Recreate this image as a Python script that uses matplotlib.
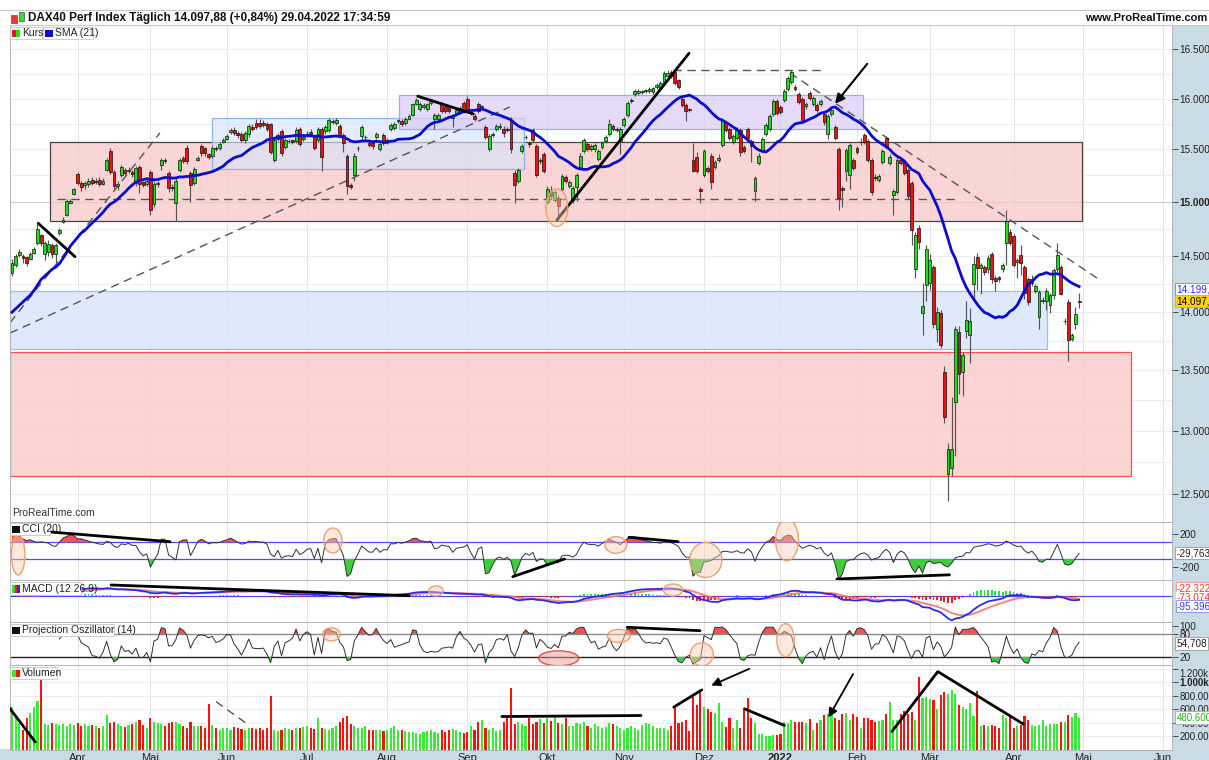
import numpy as np
import pandas as pd
import matplotlib
matplotlib.use('Agg')
import matplotlib.pyplot as plt
from matplotlib.patches import Rectangle, Ellipse
import matplotlib.transforms as mtransforms
from matplotlib.ticker import FixedLocator, FixedFormatter, NullLocator

plt.rcParams['font.family'] = ['Liberation Sans', 'DejaVu Sans']

# ---------------- data ----------------
opens = [
 14350,14420,14510,14500,14490,14470,14530,14620,14690,14520,
 14540,14600,14520,14710,14810,14880,14990,15070,15260,15180,
 15160,15170,15210,15190,15210,15170,15300,15480,15280,15150,
 15250,15300,15290,15280,15180,15330,15190,15170,15280,14980,
 15170,15350,15400,15270,15140,14990,15300,15420,15510,15270,
 15180,15400,15530,15510,15450,15440,15510,15510,15570,15600,
 15670,15690,15660,15650,15590,15650,15720,15760,15760,15760,
 15750,15750,15400,15600,15680,15520,15580,15590,15580,15700,
 15600,15640,15670,15620,15590,15700,15680,15690,15770,15760,
 15730,15640,15440,15160,15250,15510,15630,15620,15560,15560,
 15620,15500,15640,15570,15700,15710,15780,15780,15760,15800,
 15840,15950,15900,15920,15900,15960,15800,15800,15950,15920,
 15920,15810,15850,15870,15960,16000,15860,15830,15950,15920,
 15720,15500,15640,15700,15720,15700,15700,15790,15270,15200,
 15480,15620,15560,15690,15530,15390,15450,15000,15100,15020,
 15040,15120,15230,15150,15020,15140,15330,15480,15550,15500,
 15500,15410,15520,15580,15650,15730,15690,15580,15740,15840,
 15980,16050,16060,16070,16080,16080,16070,16120,16110,16170,
 16230,16270,16270,16190,16000,15940,15900,15400,15430,15120,
 15250,15320,15440,15330,15400,15540,15760,15700,15570,15610,
 15690,15520,15700,15580,15100,15370,15490,15650,15700,15850,
 15980,15920,15990,16100,16170,16120,16050,16000,15925,16060,
 15950,15940,15950,15850,15650,15850,15720,15500,15130,15290,
 15250,15400,15510,15570,15640,15580,15400,15230,15210,15380,
 15610,15370,15060,15090,15400,15380,15300,15180,14380,14760,
 13990,14240,14260,14400,13850,13990,13490,12650,12700,13240,
 13830,13490,13840,13800,14250,14490,14390,14400,14380,14520,
 14300,14310,14380,14620,14720,14680,14450,14510,14400,14290,
 14260,14190,13960,14100,14100,14060,14150,14380,14400,13920,
 14090,13770,13900,14090]

closes = [
 14440,14500,14540,14480,14440,14520,14560,14750,14620,14620,
 14610,14520,14600,14740,14830,15010,15010,15120,15180,15140,
 15180,15200,15180,15200,15170,15200,15400,15280,15150,15170,
 15330,15270,15300,15260,15320,15170,15160,15200,14920,15170,
 15180,15400,15390,15130,15130,15200,15400,15390,15390,15160,
 15310,15420,15460,15460,15430,15510,15500,15550,15590,15630,
 15690,15660,15640,15590,15660,15730,15700,15720,15730,15740,
 15700,15470,15590,15640,15460,15590,15580,15570,15690,15550,
 15620,15650,15650,15510,15700,15430,15720,15790,15780,15790,
 15640,15560,15150,15140,15440,15510,15720,15620,15540,15530,
 15650,15550,15560,15590,15740,15750,15780,15750,15800,15830,
 15950,15990,15950,15940,15950,15980,15840,15840,15880,15880,
 15880,15830,15890,15910,15880,15900,15860,15800,15880,15920,
 15620,15630,15650,15730,15720,15660,15690,15500,15160,15300,
 15530,15620,15550,15590,15250,15390,15290,15120,15050,15090,
 14960,15240,15200,15190,15130,15250,15440,15590,15500,15530,
 15540,15480,15560,15620,15750,15700,15700,15700,15800,15960,
 15990,16080,16080,16070,16080,16100,16110,16140,16160,16260,
 16260,16230,16160,16120,15940,15880,15890,15290,15290,15100,
 15480,15290,15190,15380,15420,15790,15690,15610,15630,15700,
 15470,15480,15610,15530,15220,15440,15600,15740,15830,15980,
 15860,15870,16080,16210,16270,16100,15970,15780,15950,16010,
 16010,15890,15980,15770,15830,15890,15610,15040,15110,15490,
 15540,15320,15470,15570,15570,15400,15090,15220,15240,15480,
 15530,15430,15100,15400,15370,15270,15050,14740,14690,14630,
 14052,14560,14460,13900,14000,13720,13110,12850,12850,13850,
 13470,13630,13930,13920,14430,14390,14420,14360,14480,14290,
 14280,14290,14420,14820,14620,14420,14460,14440,14170,14090,
 14290,14230,14180,14100,14190,14150,14370,14510,14160,13920,
 13760,13800,13980,14097.88]

highs = [
 14470,14520,14560,14520,14500,14540,14580,14790,14700,14640,
 14650,14620,14620,14760,14860,15030,15030,15130,15280,15200,
 15200,15220,15230,15220,15230,15220,15420,15510,15300,15200,
 15350,15320,15330,15300,15340,15350,15200,15230,15300,15200,
 15200,15420,15420,15290,15170,15220,15420,15440,15540,15290,
 15330,15440,15550,15520,15460,15530,15530,15570,15610,15650,
 15710,15720,15680,15670,15680,15750,15750,15800,15800,15790,
 15770,15760,15610,15660,15700,15610,15600,15600,15720,15720,
 15650,15680,15700,15640,15720,15720,15740,15810,15800,15810,
 15750,15660,15450,15180,15460,15530,15740,15640,15580,15590,
 15670,15570,15660,15610,15760,15770,15800,15800,15820,15850,
 15960,16010,15970,15960,15960,16000,15860,15860,15970,15940,
 15940,15850,15910,15930,15980,16030,15880,15850,15970,15940,
 15740,15650,15670,15750,15760,15730,15720,15820,15300,15320,
 15550,15640,15580,15710,15550,15420,15470,15150,15150,15110,
 15060,15260,15250,15210,15150,15270,15460,15610,15570,15550,
 15560,15500,15580,15640,15800,15750,15720,15720,15820,15980,
 16010,16100,16100,16090,16100,16120,16120,16160,16180,16280,
 16290,16290,16290,16200,16020,15960,15910,15560,15470,15140,
 15500,15340,15460,15400,15450,15810,15780,15720,15650,15720,
 15710,15540,15720,15600,15240,15460,15620,15760,15850,16000,
 16000,15940,16100,16230,16290,16140,16070,16020,15970,16080,
 16030,15960,16000,15870,15850,15910,15740,15520,15150,15510,
 15560,15420,15530,15610,15660,15600,15420,15260,15260,15500,
 15630,15450,15120,15420,15420,15400,15320,15200,14720,14780,
 14260,14600,14520,14420,14050,14020,13540,12900,13280,13880,
 13880,13660,14100,14040,14500,14530,14440,14420,14510,14540,
 14320,14320,14440,14920,14750,14700,14480,14600,14420,14310,
 14330,14250,14200,14130,14210,14170,14390,14620,14420,13950,
 14120,13820,14050,14170]

lows = [
 14320,14400,14490,14440,14410,14460,14520,14600,14590,14460,
 14500,14480,14420,14690,14800,14870,14980,15060,15160,15100,
 15120,15140,15160,15170,15150,15160,15290,15260,15120,15110,
 15230,15250,15270,15230,15150,15080,15140,15150,14880,14950,
 15140,15300,15370,15090,15100,14820,15280,15370,15360,15000,
 15160,15390,15440,15440,15410,15420,15480,15490,15560,15590,
 15650,15640,15610,15570,15560,15620,15680,15700,15710,15720,
 15680,15450,15380,15580,15440,15500,15560,15550,15560,15530,
 15580,15620,15630,15490,15570,15290,15650,15670,15750,15740,
 15620,15470,15070,15120,15200,15480,15600,15600,15520,15500,
 15600,15480,15540,15550,15680,15690,15760,15730,15740,15790,
 15830,15940,15880,15900,15880,15940,15700,15780,15860,15860,
 15860,15720,15830,15850,15860,15880,15840,15780,15860,15900,
 15600,15480,15620,15680,15700,15620,15670,15460,14990,15180,
 15460,15600,15520,15570,15230,15360,15270,14980,15030,15000,
 14830,15100,15180,15130,14990,15010,15310,15460,15480,15480,
 15470,15390,15500,15560,15630,15680,15670,15450,15720,15820,
 15960,16030,16040,16050,16060,16060,16050,16100,16090,16150,
 16220,16210,16140,16100,15920,15780,15870,15280,15270,14990,
 15230,15270,15120,15310,15380,15520,15670,15590,15550,15590,
 15440,15460,15590,15380,15010,15350,15470,15630,15680,15830,
 15840,15850,15970,16080,16150,16080,15950,15760,15900,15990,
 15930,15870,15930,15740,15600,15830,15590,14920,14950,15200,
 15120,15300,15450,15540,15550,15380,15060,15200,15190,15360,
 15510,15350,14880,15070,15350,15250,15030,14600,14300,14560,
 13800,14100,14200,13860,13740,13690,13060,12440,12640,12800,
 13300,13290,13780,13560,14100,14200,14160,14330,14350,14260,
 14190,14270,14360,14420,14600,14400,14300,14330,14120,14060,
 14230,14170,13850,14080,14020,13990,14120,14360,14150,13900,
 13580,13750,13850,14040]

volume_k = [
 640,520,400,300,470,545,640,720,1040,390,370,400,380,370,390,360,380,370,
 400,360,380,350,370,360,330,350,520,400,420,380,360,340,370,380,410,450,370,330,
 470,420,400,390,360,400,410,420,390,350,330,420,360,360,350,330,680,370,330,300,320,
 330,300,340,320,310,300,330,320,310,330,300,320,800,300,280,290,320,310,300,330,320,340,
 360,330,310,470,330,310,300,320,350,420,480,500,380,350,330,320,350,300,300,290,300,280,
 300,330,350,300,290,280,270,260,250,230,260,280,300,260,250,300,270,290,310,300,260,250,
 270,350,300,420,440,320,300,330,280,300,420,480,920,390,420,380,360,470,380,420,460,400,
 480,430,520,400,380,470,350,360,400,380,420,350,330,380,360,330,340,400,380,360,320,
 300,330,350,330,300,370,400,380,350,330,320,330,300,360,640,400,420,440,285,790,670,890,
 640,610,560,540,690,420,340,470,330,440,330,590,775,470,400,240,230,200,205,220,220,
 230,420,400,440,410,420,410,400,460,290,400,440,520,530,600,470,450,530,540,440,525,
 490,330,470,470,450,420,430,450,530,715,440,450,530,570,530,560,450,
 1085,
 775,790,760,740,600,810,860,830,890,830,670,640,600,690,500,870,
 350,370,360,370,350,330,515,470,500,330,350,370,500,440,370,350,370,440,
 350,380,390,390,420,410,520,490,540,480.6]

# start of SMA(21) and CCI(20) lines (history before the window)
sma_head = [14000,14030,14060,14090,14120,14150,14190,14240,14290,14320,
            14350,14380,14400,14430,14480,14530,14590,14630,14670,14710]
cci_head = [250,200,170,140,120,130,110,100,105,100,90,60,50,100,150,170,190,180,140]

month_labels = ['Apr','Mai','Jun','Jul','Aug','Sep','Okt','Nov','Dez','2022',
                'Feb','Mär','Apr','Mai','Jun']
price_ticks = [12500,13000,13500,14000,14500,15000,15500,16000,16500]
price_tick_labels = ['12.500','13.000','13.500','14.000','14.500','15.000','15.500','16.000','16.500']
vol_ticks = [200e3,400e3,600e3,800e3,1000e3,1200e3]
vol_tick_labels = ['200.000','400.000','600.000','800.000','1.000k','1.200k']

# last values shown in the right-hand tags
tag_sma, tag_close = 14199.74, 14097.88
tag_cci = -29.763
tag_macd = ['-22,322', '-73,074', '-95,396']
tag_po = 54.708
tag_vol = 480600

holidays = ['2021-04-02','2021-04-05','2021-12-24','2021-12-31','2022-04-15','2022-04-18']

# ---------------- derived series ----------------
o = np.array(opens, float); c = np.array(closes, float)
h = np.maximum.reduce([np.array(highs, float), o, c])
l = np.minimum.reduce([np.array(lows, float), o, c])
v = np.array(volume_k, float) * 1000
n = len(c)
assert len(o) == n == len(h) == len(l) == len(v), (len(o), n, len(h), len(l), len(v))
x = np.arange(n)
up = c >= o

all_days = pd.bdate_range('2021-03-08', '2022-06-30', freq='C', holidays=holidays)
idx = pd.Series(np.arange(len(all_days)), index=all_days)
firsts = idx.groupby([all_days.year, all_days.month]).first().values[1:]

cs = pd.Series(c)
sma = cs.rolling(21).mean().values
sma[:len(sma_head)] = sma_head

tp = pd.Series((h + l + c) / 3)
ma20 = tp.rolling(20).mean()
md20 = tp.rolling(20).apply(lambda w: np.mean(np.abs(w - w.mean())), raw=True)
cci = ((tp - ma20) / (0.015 * md20)).values
cci[:len(cci_head)] = cci_head

ema12 = cs.ewm(span=12, adjust=False).mean()
ema26 = cs.ewm(span=26, adjust=False).mean()
macd = (ema12 - ema26).values
sig = pd.Series(macd).ewm(span=9, adjust=False).mean().values
hist = macd - sig

def proj_osc(hh, ll, cc, p=14):
    out = np.full(len(cc), np.nan)
    k = np.arange(p)
    for t in range(p - 1, len(cc)):
        hw = hh[t - p + 1:t + 1]; lw_ = ll[t - p + 1:t + 1]
        sh = np.polyfit(k, hw, 1)[0]; sl = np.polyfit(k, lw_, 1)[0]
        ub = np.max(hw + sh * (p - 1 - k)); lb = np.min(lw_ + sl * (p - 1 - k))
        out[t] = 100 * (cc[t] - lb) / (ub - lb)
    return out
po = proj_osc(h, l, c)

# ---------------- figure layout ----------------
W, H = 1209, 760
fig = plt.figure(figsize=(W / 100, H / 100), dpi=100)
fig.patch.set_facecolor('white')
def FX(px): return px / W
def FY(py): return 1 - py / H
L0, R0 = 10, 1172
def add_panel(top, bottom):
    a = fig.add_axes([FX(L0), FY(bottom), FX(R0 - L0), (bottom - top) / H])
    a.set_facecolor('white')
    return a

ax = add_panel(25, 522)
ax_cci = add_panel(522, 580)
ax_macd = add_panel(580, 622)
ax_po = add_panel(622, 665)
ax_vol = add_panel(665, 750)
axes = [ax, ax_cci, ax_macd, ax_po, ax_vol]

STRIP = '#c9dbe5'
fig.add_artist(Rectangle((FX(R0), 0), 1 - FX(R0), FY(25), transform=fig.transFigure,
                         facecolor=STRIP, edgecolor='none', zorder=-5))
fig.add_artist(Rectangle((0, 0), 1, FY(749), transform=fig.transFigure,
                         facecolor=STRIP, edgecolor='none', zorder=-5))

XMIN, XMAX = -0.55, 318.5
TICKFS = 7.2
for a in axes:
    a.set_xlim(XMIN, XMAX)
    for s in a.spines.values():
        s.set_color('#b4b4b4'); s.set_linewidth(0.7)
    a.yaxis.tick_right()
    a.tick_params(axis='y', which='both', length=4, width=0.6, pad=1.5,
                  labelsize=TICKFS, colors='#333333', labelcolor='#222222')
    a.tick_params(axis='x', which='both', length=0, labelbottom=False)
    for p in firsts:
        a.axvline(p, color='#e4e4e4', lw=0.7, zorder=0)
    a.set_xticks([])

# ---------------- main price panel ----------------
ax.set_yscale('log')
ax.set_ylim(12280, 16752)
ax.yaxis.set_major_locator(FixedLocator(price_ticks))
ax.yaxis.set_major_formatter(FixedFormatter(price_tick_labels))
ax.yaxis.set_minor_locator(NullLocator())
for t in ax.get_yticklabels():
    if t.get_text() == '15.000':
        t.set_fontweight('bold')
for g in np.arange(12500, 16751, 250):
    ax.axhline(g, color='#c9c9c9' if g == 15000 else '#ececec', lw=0.7, zorder=0)

def zone(x0, x1, y0, y1, fc, ec, lw=0.9, z=1):
    ax.add_patch(Rectangle((x0, y0), x1 - x0, y1 - y0, facecolor=fc, edgecolor=ec, lw=lw, zorder=z))

zone(-0.55, 307.2, 12640, 13653, (0.98, 0.80, 0.80, 0.85), '#ff4d4d')
zone(-0.55, 284.1, 13679, 14189, (0.86, 0.90, 0.99, 0.85), '#9dbcf3')
zone(10.4, 293.8, 14824, 15574, (0.97, 0.78, 0.78, 0.75), '#444444')
zone(54.8, 140.6, 15308, 15809, (0.84, 0.89, 0.99, 0.65), '#8fb2f2')
zone(106.3, 233.7, 15695, 16035, (0.86, 0.80, 0.97, 0.7), '#8fb2f2')

dash = dict(color='#555555', lw=1.0, dashes=(6, 4), zorder=2)
ax.plot([12.4, 259.5], [15029, 15029], **dash)
ax.plot([181.5, 223.2], [16288, 16288], **dash)
ax.plot([-0.55, 136.7], [13819, 15916], **dash)
ax.plot([-0.55, 40.6], [13908, 15659], **dash)
ax.plot([213.6, 297.9], [16257, 14302], **dash)

ax.vlines(x, l, h, color='#555555', lw=0.85, zorder=3)
body_lo = np.minimum(o, c)
body_h = np.maximum(np.abs(c - o), 4)
ax.bar(x, body_h, bottom=body_lo, width=0.78, color=np.where(up, '#19e019', '#ee1111'),
       edgecolor='black', linewidth=0.45, zorder=4)
ax.plot(x, sma, color='#0b0bcc', lw=2.0, zorder=5)

solid = dict(color='black', lw=2.0, zorder=6, solid_capstyle='round')
ax.plot([7.2, 17.3], [14800, 14494], **solid)
ax.plot([111.4, 126.7], [16023, 15846], **solid)
ax.plot([149.6, 185.9], [14830, 16459], **solid)
ax.annotate('', xy=(225.5, 15925), xytext=(235.3, 16373),
            arrowprops=dict(arrowstyle='-|>', color='black', lw=1.5, mutation_scale=14), zorder=6)

orange_fc = (0.98, 0.80, 0.70, 0.45)
orange_ec = '#f0a070'
ax.add_patch(Ellipse((149.6, 14945), 6, 350, facecolor=orange_fc, edgecolor=orange_ec, lw=1, zorder=6))

bt = mtransforms.blended_transform_factory(ax.transAxes, ax.transData)
ax.text(1.004, tag_sma, '14.199,74', transform=bt, fontsize=TICKFS, color='#2a2aff', va='center', ha='left',
        bbox=dict(boxstyle='square,pad=0.12', fc='white', ec='#7a7aff', lw=0.6), clip_on=False, zorder=10)
ax.text(1.004, tag_close, '14.097,88', transform=bt, fontsize=TICKFS, color='black', va='center', ha='left',
        bbox=dict(boxstyle='square,pad=0.12', fc='#ffd200', ec='#e0b000', lw=0.6), clip_on=False, zorder=10)
ax.text(0.002, 0.008, 'ProRealTime.com', transform=ax.transAxes, fontsize=7.5, color='#333333',
        va='bottom', ha='left', zorder=10)

# ---------------- CCI ----------------
ax_cci.set_ylim(-352, 343)
ax_cci.set_yticks([200, -200]); ax_cci.set_yticklabels(['200', '-200'])
ax_cci.axhline(100, color='#4a4aff', lw=0.9, zorder=2)
ax_cci.axhline(-100, color='#4a4aff', lw=0.9, zorder=2)
ax_cci.fill_between(x, cci, 100, where=cci > 100, interpolate=True, color='#f25252', lw=0, zorder=3)
ax_cci.fill_between(x, cci, -100, where=cci < -100, interpolate=True, color='#3ccc3c', lw=0, zorder=3)
ax_cci.plot(x, cci, color='#303030', lw=0.7, zorder=4)
for (cx, cy, w, hh) in [(1.7, -52, 3.7, 480), (88.1, 121, 5, 300), (190.5, -112, 8.8, 420),
                        (212.8, 128, 6.3, 500), (165.8, 68, 6, 200)]:
    ax_cci.add_patch(Ellipse((cx, cy), w, hh, facecolor=orange_fc, edgecolor=orange_ec, lw=1, zorder=5))
for (p0, p1) in [((9.5, 227), (43.4, 107)), ((137.5, -312), (151.7, -100)),
                 ((169.4, 160), (182.9, 107)), ((226.5, -340), (257.4, -290))]:
    ax_cci.plot([p0[0], p1[0]], [p0[1], p1[1]], **solid)
bt = mtransforms.blended_transform_factory(ax_cci.transAxes, ax_cci.transData)
ax_cci.text(1.004, tag_cci, '-29,763', transform=bt, fontsize=TICKFS, color='#222222', va='center', ha='left',
            bbox=dict(boxstyle='square,pad=0.12', fc='white', ec='#999999', lw=0.6), clip_on=False, zorder=10)

# ---------------- MACD ----------------
ax_macd.set_ylim(-650, 400)
ax_macd.set_yticks([])
ax_macd.axhline(0, color='#4a4aff', lw=0.9, zorder=2)
ax_macd.bar(x, hist, width=0.5, color=np.where(hist >= 0, '#33dd33', '#ff1a1a'), zorder=3)
ax_macd.plot(x, sig, color='#f07070', lw=1.4, alpha=0.85, zorder=4)
ax_macd.plot(x, macd, color='#2a2aee', lw=1.3, zorder=5)
ax_macd.plot([27.2, 109.1], [275, 7.5], **solid)
ax_macd.add_patch(Ellipse((116.4, 125), 4, 250, facecolor=orange_fc, edgecolor=orange_ec, lw=1, zorder=6))
ax_macd.add_patch(Ellipse((181.5, 150), 5.3, 300, facecolor=orange_fc, edgecolor=orange_ec, lw=1, zorder=6))
for txt, yf, col, ec in zip(tag_macd, [0.80, 0.58, 0.38], ['#ff3030', '#ff3030', '#3a3aff'],
                            ['#ff9090', 'none', '#8a8aff']):
    ax_macd.text(1.004, yf, txt, transform=ax_macd.transAxes, fontsize=TICKFS, color=col, va='center', ha='left',
                 bbox=dict(boxstyle='square,pad=0.1', fc='white', ec=ec, lw=0.6), clip_on=False, zorder=10)

# ---------------- Projection oscillator ----------------
ax_po.set_ylim(-0.9, 111.3)
ax_po.set_yticks([100, 80, 20]); ax_po.set_yticklabels(['100', '80', '20'])
ax_po.axhline(80, color='#8a8a8a', lw=1.0, zorder=2)
ax_po.axhline(20, color='#222222', lw=1.0, zorder=2)
ax_po.fill_between(x, po, 80, where=po > 80, interpolate=True, color='#f25252', lw=0, zorder=3)
ax_po.fill_between(x, po, 20, where=po < 20, interpolate=True, color='#3ccc3c', lw=0, zorder=3)
ax_po.plot(x, po, color='#303030', lw=0.7, zorder=4)
for (cx, cy, w, hh) in [(87.7, 79, 4.8, 34), (166.6, 75, 6.3, 34), (189.4, 27, 6.3, 60), (212.4, 64, 4.8, 86)]:
    ax_po.add_patch(Ellipse((cx, cy), w, hh, facecolor=orange_fc, edgecolor=orange_ec, lw=1, zorder=5))
ax_po.add_patch(Ellipse((150.1, 16.6), 11, 39, facecolor=(0.95, 0.6, 0.6, 0.5), edgecolor='#e05050', lw=1, zorder=5))
ax_po.plot([168.9, 188.9], [97.5, 88.6], **solid)
bt = mtransforms.blended_transform_factory(ax_po.transAxes, ax_po.transData)
ax_po.text(1.004, tag_po, '54,708', transform=bt, fontsize=TICKFS, color='#222222', va='center', ha='left',
           bbox=dict(boxstyle='square,pad=0.12', fc='white', ec='#999999', lw=0.6), clip_on=False, zorder=10)

# ---------------- Volume ----------------
ax_vol.set_ylim(0, 1257e3)
ax_vol.set_yticks(vol_ticks); ax_vol.set_yticklabels(vol_tick_labels)
ax_vol.tick_params(axis='y', labelsize=7)
for t in ax_vol.get_yticklabels():
    if t.get_text() == '1.000k':
        t.set_fontweight('bold')
    if t.get_text() == '1.200k':
        t.set_va('top')
for g in vol_ticks:
    ax_vol.axhline(g, color='#ececec', lw=0.7, zorder=0)
ax_vol.bar(x, v, width=0.58, color=np.where(up, '#33ee33', '#ff1010'), zorder=3)
ax_vol.plot([-0.66, 6.4], [619e3, 118e3], **solid)
ax_vol.plot([56, 64.5], [716e3, 388e3], **dash)
ax_vol.plot([134.5, 172.7], [495e3, 510e3], **solid)
ax_vol.plot([181.7, 189.4], [634e3, 889e3], **solid)
ax_vol.plot([201.1, 212.1], [609e3, 363e3], **solid)
ax_vol.plot([241.6, 254.2, 277.7], [274e3, 1159e3, 383e3], **solid)
arr = dict(arrowstyle='-|>', color='black', lw=1.3, mutation_scale=13)
ax_vol.annotate('', xy=(191.3, 937e3), xytext=(203.1, 1217e3), arrowprops=arr, zorder=6)
ax_vol.annotate('', xy=(223.8, 446e3), xytext=(231.3, 1159e3), arrowprops=arr, zorder=6)
bt = mtransforms.blended_transform_factory(ax_vol.transAxes, ax_vol.transData)
ax_vol.text(1.004, tag_vol, '480.600', transform=bt, fontsize=7, color='#22bb22', va='center', ha='left',
            bbox=dict(boxstyle='square,pad=0.12', fc='white', ec='#aaaaaa', lw=0.6), clip_on=False, zorder=10)

# month labels on the bottom strip
ax_vol.set_xticks(firsts)
ax_vol.set_xticklabels(month_labels)
ax_vol.tick_params(axis='x', labelbottom=True, length=0, pad=2, labelsize=8, labelcolor='#222222')
for t in ax_vol.get_xticklabels():
    if t.get_text() == '2022':
        t.set_fontweight('bold')

# ---------------- header, legends ----------------
fig.add_artist(plt.Line2D([0, 1], [FY(10), FY(10)], color='#c8c8c8', lw=0.8, transform=fig.transFigure))
fig.add_artist(plt.Line2D([FX(10), 1], [FY(25), FY(25)], color='#c8c8c8', lw=0.8, transform=fig.transFigure))
fig.text(FX(28), FY(18), 'DAX40 Perf Index Täglich 14.097,88 (+0,84%) 29.04.2022 17:34:59',
         fontsize=8.5, fontweight='bold', va='center', ha='left', color='#111111')
fig.text(FX(1207), FY(18), 'www.ProRealTime.com', fontsize=8, fontweight='bold', va='center', ha='right',
         color='#111111')

def frect(x0, y0, x1, y1, fc, ec='none', lw=0.6, z=20):
    fig.add_artist(Rectangle((FX(x0), FY(y1)), FX(x1 - x0), (y1 - y0) / H, transform=fig.transFigure,
                             facecolor=fc, edgecolor=ec, lw=lw, zorder=z))

# header candle icon
frect(11, 15, 17, 23, '#ee3333', '#666666')
frect(19, 12, 24, 21, '#33dd33', '#666666')

def legend_box(x0, y0, x1, y1, label, icon_colors):
    frect(x0, y0, x1, y1, 'white', '#c4c4c4')
    nic = len(icon_colors)
    wi = 8 / nic
    for k, col in enumerate(icon_colors):
        frect(x0 + 2 + k * wi, y0 + 2.5, x0 + 2 + (k + 1) * wi, y1 - 2.5, col, z=21)
    fig.text(FX(x0 + 12), FY((y0 + y1) / 2), label, fontsize=7.5, va='center', ha='left',
             color='#222222', zorder=22)

legend_box(10, 27, 42, 39, 'Kurs', ['#ee1111', '#19e019'])
legend_box(43, 27, 93, 39, 'SMA (21)', ['#0b0bcc'])
legend_box(10, 523, 50, 535, 'CCI (20)', ['#111111'])
legend_box(10, 582, 81, 595, 'MACD (12 26 9)', ['#33dd33', '#ff1a1a', '#2a2aee'])
legend_box(10, 624, 114, 636, 'Projection Oszillator (14)', ['#111111'])
legend_box(10, 667, 57, 679, 'Volumen', ['#33ee33', '#ff1010'])

fig.savefig('out.png', dpi=100, facecolor='white')
